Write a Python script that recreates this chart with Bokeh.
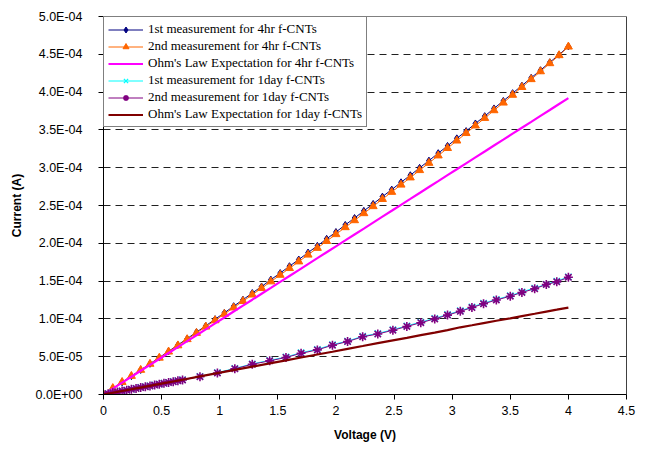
import numpy as np
from bokeh.plotting import figure
from bokeh.models import Range1d, FixedTicker, CustomJSTickFormatter, Span, Legend
from bokeh.embed import file_html
from bokeh.resources import INLINE

# ---------------- data (current in units of 1e-4 A) ----------------
voltage_4hr = [0.00, 0.08, 0.16, 0.24, 0.32, 0.40, 0.48, 0.56, 0.64, 0.72,
               0.80, 0.88, 0.96, 1.04, 1.12, 1.20, 1.28, 1.36, 1.44, 1.52,
               1.60, 1.68, 1.76, 1.84, 1.92, 2.00, 2.08, 2.16, 2.24, 2.32,
               2.40, 2.48, 2.56, 2.64, 2.72, 2.80, 2.88, 2.96, 3.04, 3.12,
               3.20, 3.28, 3.36, 3.44, 3.52, 3.60, 3.68, 3.76, 3.84, 3.92, 4.00]

current_4hr_1st = [0.000, 0.081, 0.162, 0.243, 0.325, 0.406, 0.489, 0.571, 0.656, 0.739,
                   0.825, 0.908, 0.996, 1.080, 1.168, 1.253, 1.342, 1.428, 1.519, 1.606,
                   1.697, 1.785, 1.877, 1.966, 2.059, 2.149, 2.243, 2.334, 2.429, 2.521,
                   2.617, 2.710, 2.807, 2.900, 2.998, 3.093, 3.192, 3.288, 3.388, 3.484,
                   3.585, 3.682, 3.784, 3.883, 3.986, 4.085, 4.189, 4.289, 4.394, 4.495, 4.605]

current_4hr_2nd = [0.000, 0.083, 0.164, 0.244, 0.324, 0.404, 0.485, 0.566, 0.648, 0.730,
                   0.813, 0.896, 0.980, 1.064, 1.149, 1.234, 1.320, 1.406, 1.494, 1.581,
                   1.670, 1.758, 1.848, 1.937, 2.028, 2.119, 2.211, 2.303, 2.396, 2.489,
                   2.584, 2.678, 2.774, 2.869, 2.966, 3.062, 3.160, 3.258, 3.357, 3.456,
                   3.556, 3.656, 3.758, 3.859, 3.962, 4.065, 4.169, 4.273, 4.380, 4.486, 4.600]

current_4hr_ohm = [0.000, 0.078, 0.157, 0.235, 0.314, 0.392, 0.470, 0.549, 0.627, 0.706,
                   0.784, 0.862, 0.941, 1.019, 1.098, 1.176, 1.254, 1.333, 1.411, 1.490,
                   1.568, 1.646, 1.725, 1.803, 1.882, 1.960, 2.038, 2.117, 2.195, 2.274,
                   2.352, 2.430, 2.509, 2.587, 2.666, 2.744, 2.822, 2.901, 2.979, 3.058,
                   3.136, 3.214, 3.293, 3.371, 3.450, 3.528, 3.606, 3.685, 3.763, 3.842, 3.920]

voltage_1day = [0.00, 0.04, 0.08, 0.12, 0.16, 0.20, 0.24, 0.28, 0.32, 0.36,
                0.40, 0.44, 0.48, 0.52, 0.56, 0.60, 0.64, 0.68, 0.83, 0.98,
                1.13, 1.28, 1.43, 1.57, 1.70, 1.84, 1.97, 2.10, 2.23, 2.36,
                2.49, 2.61, 2.73, 2.85, 2.96, 3.07, 3.17, 3.27, 3.38, 3.50,
                3.60, 3.71, 3.81, 3.90, 4.00]

current_1day_1st = [0.000, 0.012, 0.024, 0.035, 0.047, 0.058, 0.070, 0.081, 0.093, 0.104,
                    0.115, 0.127, 0.138, 0.149, 0.161, 0.172, 0.183, 0.195, 0.240, 0.290,
                    0.345, 0.405, 0.452, 0.497, 0.553, 0.598, 0.660, 0.707, 0.771, 0.808,
                    0.858, 0.908, 0.958, 1.008, 1.058, 1.108, 1.158, 1.208, 1.258, 1.308,
                    1.358, 1.408, 1.458, 1.500, 1.557]

current_1day_2nd = [0.000, 0.011, 0.023, 0.034, 0.046, 0.057, 0.068, 0.080, 0.091, 0.102,
                    0.114, 0.125, 0.136, 0.148, 0.159, 0.170, 0.182, 0.193, 0.236, 0.285,
                    0.340, 0.400, 0.445, 0.490, 0.545, 0.590, 0.652, 0.700, 0.764, 0.800,
                    0.850, 0.900, 0.950, 1.000, 1.050, 1.100, 1.150, 1.200, 1.250, 1.300,
                    1.350, 1.398, 1.455, 1.490, 1.550]

current_1day_ohm = [0.000, 0.0115, 0.023, 0.0345, 0.046, 0.0575, 0.069, 0.0805, 0.092, 0.1035,
                    0.115, 0.1265, 0.138, 0.1495, 0.161, 0.1725, 0.184, 0.1955, 0.239, 0.282,
                    0.325, 0.368, 0.411, 0.451, 0.489, 0.529, 0.566, 0.604, 0.641, 0.679,
                    0.716, 0.750, 0.785, 0.819, 0.851, 0.889, 0.916, 0.944, 0.975, 1.008,
                    1.037, 1.068, 1.097, 1.122, 1.150]

x_ticks = [0, 0.5, 1, 1.5, 2, 2.5, 3, 3.5, 4, 4.5]
y_ticks = [0.0, 5e-5, 1.0e-4, 1.5e-4, 2.0e-4, 2.5e-4, 3.0e-4, 3.5e-4, 4.0e-4, 4.5e-4, 5.0e-4]

series_labels = ["1st measurement for 4hr f-CNTs",
                 "2nd measurement for 4hr f-CNTs",
                 "Ohm's Law Expectation for 4hr f-CNTs",
                 "1st measurement for 1day f-CNTs",
                 "2nd measurement for 1day f-CNTs",
                 "Ohm's Law Expectation for 1day f-CNTs"]

SCALE = 1e-4

p = figure(width=648, height=452, output_backend="svg", toolbar_location=None,
           x_range=Range1d(0, 4.5), y_range=Range1d(0, 5e-4),
           min_border_left=103, min_border_right=22, min_border_top=16, min_border_bottom=58)
p.background_fill_color = "white"
p.border_fill_color = "white"
p.outline_line_color = "#808080"
p.outline_line_width = 1

# grid
p.xgrid.grid_line_color = None
p.ygrid.grid_line_color = "#202020"
p.ygrid.grid_line_dash = "7 5"
p.ygrid.grid_line_width = 1
p.ygrid.ticker = FixedTicker(ticks=y_ticks)

# axes
font = "Liberation Sans"
for ax in (p.xaxis[0], p.yaxis[0]):
    ax.axis_line_color = "black"
    ax.axis_line_width = 1
    ax.major_tick_in = 0
    ax.major_tick_out = 5
    ax.major_tick_line_color = "black"
    ax.minor_tick_line_color = None
    ax.major_label_text_font = font
    ax.major_label_text_font_size = "12.5px"
    ax.major_label_text_color = "black"
    ax.axis_label_text_font = font
    ax.axis_label_text_font_size = "12px"
    ax.axis_label_text_font_style = "bold"
    ax.axis_label_text_color = "black"

p.xaxis.ticker = FixedTicker(ticks=x_ticks)
p.xaxis.axis_label = "Voltage (V)"
p.xaxis.major_label_standoff = 6
p.xaxis.axis_label_standoff = 10

p.yaxis.ticker = FixedTicker(ticks=y_ticks)
p.yaxis.formatter = CustomJSTickFormatter(code="""
    const s = tick.toExponential(1).split('e');
    const e = parseInt(s[1]);
    const a = Math.abs(e);
    return s[0] + 'E' + (e < 0 ? '-' : '+') + (a < 10 ? '0' : '') + a;
""")
p.yaxis.axis_label = "Current (A)"
p.yaxis.major_label_standoff = 16
p.yaxis.axis_label_standoff = 9

# right border in black
p.add_layout(Span(location=4.5, dimension="height", line_color="black", line_width=1))

v4 = np.array(voltage_4hr)
v1 = np.array(voltage_1day)

# 1st 4hr
r1 = p.line(v4, np.array(current_4hr_1st) * SCALE, line_color="#000080", line_width=1)
m1 = p.scatter(v4, np.array(current_4hr_1st) * SCALE, marker="diamond", size=7,
               fill_color="#000080", line_color="#000080")
# 2nd 4hr
r2 = p.line(v4, np.array(current_4hr_2nd) * SCALE, line_color="#FF6600", line_width=1)
m2 = p.scatter(v4, np.array(current_4hr_2nd) * SCALE, marker="triangle", size=8,
               fill_color="#FF6600", line_color="#FF6600")
# Ohm 4hr
r3 = p.line(v4, np.array(current_4hr_ohm) * SCALE, line_color="#FF00FF", line_width=2.2)
# 1st 1day
r4 = p.line(v1, np.array(current_1day_1st) * SCALE, line_color="#00FFFF", line_width=1)
m4 = p.scatter(v1, np.array(current_1day_1st) * SCALE, marker="x", size=9,
               line_color="#00FFFF", line_width=1.3)
# 2nd 1day
r5 = p.line(v1, np.array(current_1day_2nd) * SCALE, line_color="#800080", line_width=1)
m5 = p.scatter(v1, np.array(current_1day_2nd) * SCALE, marker="asterisk", size=9,
               line_color="#800080", line_width=1.6)
# Ohm 1day
r6 = p.line(v1, np.array(current_1day_ohm) * SCALE, line_color="#800000", line_width=2.2)

renderer_groups = [[r1, m1], [r2, m2], [r3], [r4, m4], [r5, m5], [r6]]
legend = Legend(items=[(lab, grp) for lab, grp in zip(series_labels, renderer_groups)],
                location="top_left")
legend.label_text_font = "Liberation Serif"
legend.label_text_font_size = "13px"
legend.label_text_color = "black"
legend.label_height = 15
legend.glyph_height = 15
legend.glyph_width = 35
legend.label_standoff = 5
legend.spacing = 1
legend.padding = 4
legend.margin = 0
legend.border_line_color = "black"
legend.border_line_width = 1
legend.background_fill_color = "white"
legend.background_fill_alpha = 1.0
p.add_layout(legend, "center")

open("out.html", "w").write(file_html(p, INLINE))
